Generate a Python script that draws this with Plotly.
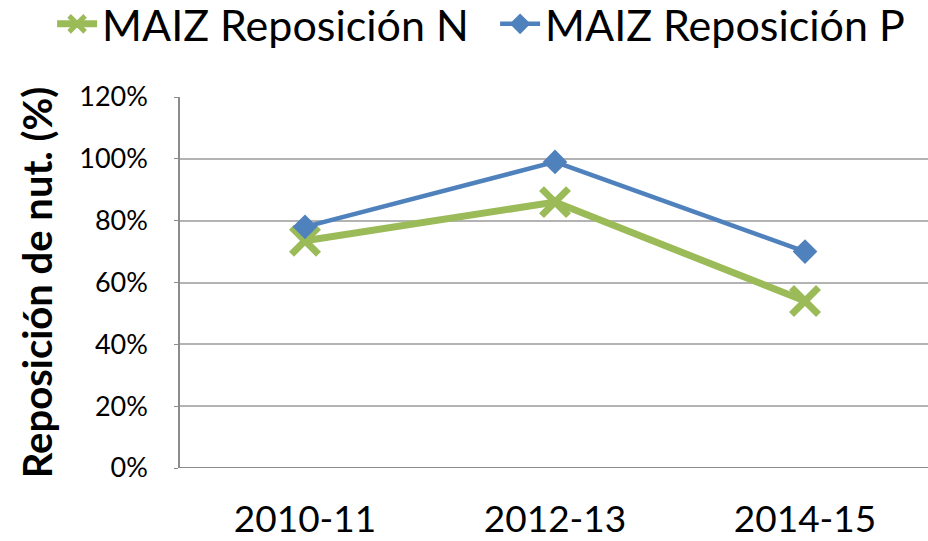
import plotly.graph_objects as go

categories = ["2010-11", "2012-13", "2014-15"]
rep_n = [0.735, 0.86, 0.54]
rep_p = [0.78, 0.99, 0.70]
y_ticks = [0, 0.2, 0.4, 0.6, 0.8, 1.0, 1.2]
y_tick_labels = ["0%", "20%", "40%", "60%", "80%", "100%", "120%"]

FONT = "Lato"
GREEN = "#9BBB59"
BLUE = "#4F81BD"

fig = go.Figure()
fig.add_trace(go.Scatter(
    x=categories, y=rep_n, name="MAIZ Reposición N", mode="lines+markers",
    line=dict(color=GREEN, width=7),
    marker=dict(symbol="x-thin", size=27, line=dict(color=GREEN, width=7), color=GREEN),
))
fig.add_trace(go.Scatter(
    x=categories, y=rep_p, name="MAIZ Reposición P", mode="lines+markers",
    line=dict(color=BLUE, width=4.5),
    marker=dict(symbol="diamond", size=19, color=BLUE),
))

fig.update_layout(
    width=928, height=541,
    paper_bgcolor="white", plot_bgcolor="white",
    margin=dict(l=180, r=0, t=97, b=73, autoexpand=False),
    font=dict(family=FONT, color="black"),
    showlegend=True,
    legend=dict(
        orientation="h", xref="paper", yref="paper",
        x=-0.171, xanchor="left", y=1.197, yanchor="middle",
        font=dict(size=43, family=FONT, color="black"),
        itemwidth=40, tracegroupgap=0, entrywidth=388,
        bgcolor="rgba(0,0,0,0)",
    ),
    xaxis=dict(
        type="category", range=[-0.5, 2.492],
        showgrid=False, showline=False, zeroline=False,
        ticks="", tickfont=dict(size=37, family=FONT),
        ticklabelstandoff=26,
    ),
    yaxis=dict(
        range=[0, 1.2], tickvals=y_ticks, ticktext=y_tick_labels,
        showgrid=True, gridcolor="#b3b3b3", gridwidth=1.5,
        showline=True, linecolor="#8c8c8c", linewidth=1.5,
        zeroline=False,
        ticks="outside", ticklen=4, tickcolor="#8c8c8c",
        tickfont=dict(size=27, family=FONT),
        ticklabelstandoff=21,
        title=dict(text="<b>Reposición de nut. (%)</b>", font=dict(size=40, family=FONT), standoff=14),
    ),
)
fig.add_shape(type="line", xref="paper", yref="y", x0=0, x1=1, y0=0, y1=0,
              line=dict(color="#8c8c8c", width=2))

fig.write_html(
    "out.html",
    config={"responsive": False, "displayModeBar": False},
    post_script="document.body.style.margin='0';document.body.style.overflow='hidden';",
)
